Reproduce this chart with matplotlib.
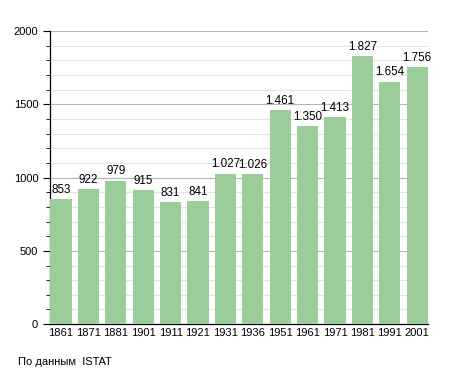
import matplotlib
matplotlib.use("Agg")
import matplotlib.pyplot as plt
from matplotlib.ticker import MultipleLocator

plt.rcParams['font.family'] = ['Liberation Sans', 'DejaVu Sans']

years = ["1861", "1871", "1881", "1901", "1911", "1921", "1931", "1936",
         "1951", "1961", "1971", "1981", "1991", "2001"]
population = [853, 922, 979, 915, 831, 841, 1027, 1026, 1461, 1350, 1413, 1827, 1654, 1756]
labels = ["853", "922", "979", "915", "831", "841", "1.027", "1.026",
          "1.461", "1.350", "1.413", "1.827", "1.654", "1.756"]

fig = plt.figure(figsize=(4.55, 3.73), dpi=100)
ax = fig.add_axes([0.110, 0.131, 0.831, 0.786])

x = list(range(len(years)))
ax.bar(x, population, width=0.77, color='#9acd99', zorder=3)
for xi, v, lab in zip(x, population, labels):
    ax.text(xi, v + 22, lab, ha='center', va='bottom', fontsize=8.4, zorder=4)

ax.set_xlim(-0.4, len(years) - 0.6)
ax.set_ylim(0, 2000)
ax.yaxis.set_major_locator(MultipleLocator(500))
ax.yaxis.set_minor_locator(MultipleLocator(100))
ax.grid(which='major', axis='y', color='#b5b5b5', linewidth=0.8, zorder=0)
ax.grid(which='minor', axis='y', color='#e3e3e3', linewidth=0.8, zorder=0)
ax.set_xticks(x)
ax.set_xticklabels(years)
ax.tick_params(axis='x', length=0, labelsize=8, pad=3)
ax.tick_params(axis='y', which='major', length=5, labelsize=8, direction='out')
ax.tick_params(axis='y', which='minor', length=3, direction='out')
for s in ['top', 'right']:
    ax.spines[s].set_visible(False)
ax.spines['left'].set_linewidth(0.9)
ax.spines['bottom'].set_linewidth(0.9)

fig.text(18 / 455, 1 - 362 / 373, "По данным  ISTAT", fontsize=8, va='center', ha='left')

fig.savefig("out.png", dpi=100)
